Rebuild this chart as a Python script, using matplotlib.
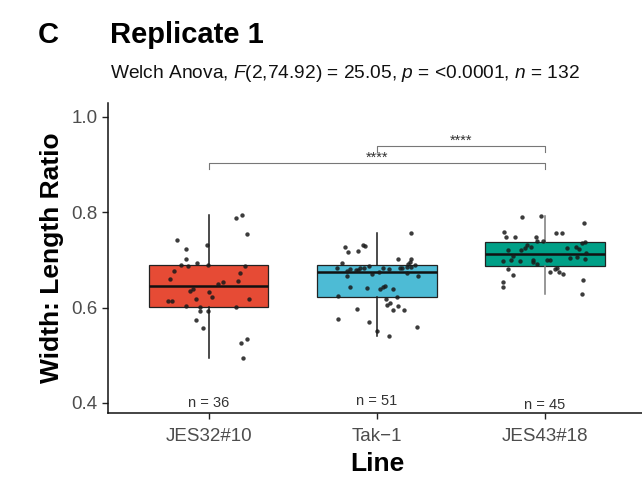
import matplotlib
matplotlib.use("Agg")
import matplotlib.pyplot as plt
import numpy as np

plt.rcParams['font.family'] = ['Liberation Sans', 'DejaVu Sans']
plt.rcParams['mathtext.fontset'] = 'custom'
plt.rcParams['mathtext.rm'] = 'Liberation Sans'
plt.rcParams['mathtext.it'] = 'Liberation Sans:italic'

# ---- data ----
lines = ["JES32#10", "Tak-1", "JES43#18"]
colors = ["#E64B35", "#4DBBD5", "#00A087"]
counts = [36, 51, 45]

# box statistics: lower whisker, Q1, median, Q3, upper whisker
whis_lo = [0.494, 0.541, 0.629]
q1 = [0.601, 0.622, 0.687]
median = [0.645, 0.675, 0.712]
q3 = [0.689, 0.689, 0.738]
whis_hi = [0.794, 0.756, 0.792]

# individual measurements (ratio) with their horizontal jitter
jes32_ratio = [0.787, 0.794, 0.754, 0.742, 0.731, 0.723, 0.702, 0.694, 0.689,
               0.687, 0.689, 0.688, 0.677, 0.673, 0.660, 0.656, 0.654, 0.650,
               0.639, 0.635, 0.633, 0.623, 0.619, 0.614, 0.614, 0.618, 0.604,
               0.602, 0.601, 0.593, 0.593, 0.574, 0.558, 0.526, 0.534, 0.494]
jes32_jit = [0.161, 0.195, 0.230, -0.192, -0.010, -0.137, -0.133, -0.070, -0.167,
             -0.123, -0.004, 0.218, -0.207, 0.185, -0.232, 0.171, 0.082, 0.052,
             -0.093, -0.113, 0.000, 0.016, -0.079, -0.242, -0.222, 0.240, -0.137,
             0.161, -0.054, -0.054, -0.004, -0.079, -0.034, 0.189, 0.226, 0.204]

tak1_ratio = [0.756, 0.728, 0.716, 0.719, 0.731, 0.729, 0.701, 0.701, 0.696,
              0.692, 0.690, 0.693, 0.684, 0.677, 0.680, 0.679, 0.684, 0.684,
              0.675, 0.684, 0.684, 0.686, 0.667, 0.667, 0.672, 0.643, 0.641,
              0.639, 0.644, 0.646, 0.639, 0.624, 0.619, 0.622, 0.605, 0.610,
              0.603, 0.596, 0.594, 0.597, 0.576, 0.570, 0.560, 0.551, 0.541,
              0.679, 0.682, 0.686, 0.671, 0.688, 0.680]
tak1_jit = [0.201, -0.188, -0.171, -0.115, -0.085, -0.068, 0.127, 0.205, 0.195,
            0.185, 0.226, -0.210, -0.240, -0.180, -0.161, -0.111, -0.101, -0.076,
            0.012, 0.038, 0.137, 0.177, 0.246, -0.180, 0.177, -0.158, -0.057,
            0.018, 0.036, 0.048, 0.097, -0.234, 0.054, 0.119, 0.061, 0.077,
            0.127, 0.097, 0.164, -0.119, -0.229, -0.046, 0.241, 0.002, 0.074,
            -0.125, 0.150, 0.200, -0.030, -0.045, 0.070]

jes43_ratio = [0.791, 0.792, 0.777, 0.756, 0.757, 0.759, 0.747, 0.747, 0.747,
               0.740, 0.738, 0.735, 0.731, 0.728, 0.724, 0.740, 0.724, 0.728,
               0.722, 0.721, 0.721, 0.708, 0.707, 0.702, 0.698, 0.700, 0.698,
               0.700, 0.695, 0.691, 0.700, 0.700, 0.680, 0.668, 0.675, 0.680,
               0.682, 0.675, 0.670, 0.654, 0.644, 0.658, 0.629, 0.715, 0.705]
jes43_jit = [-0.139, -0.026, 0.232, 0.065, 0.099, -0.242, -0.232, -0.179, -0.054,
             -0.046, 0.238, 0.218, -0.105, -0.085, -0.119, -0.010, 0.129, 0.185,
             0.204, -0.218, -0.143, -0.189, 0.189, 0.238, -0.252, -0.202, -0.149,
             -0.073, -0.070, -0.046, 0.010, 0.030, -0.218, -0.189, 0.030, 0.060,
             0.070, 0.085, 0.105, -0.248, -0.248, 0.228, 0.222, 0.245, 0.150]

ratios = [jes32_ratio, tak1_ratio, jes43_ratio]
jitters = [jes32_jit, tak1_jit, jes43_jit]

# pairwise comparisons: (group a, group b, bracket height, label)
comparisons = [(2, 3, 0.939, "****"), (1, 3, 0.903, "****")]
n_label_y = [0.400, 0.404, 0.396]

# ---- figure ----
fig = plt.figure(figsize=(6.42, 4.8), dpi=100)
ax = fig.add_axes([108 / 642, 67 / 480, (645.8 - 108) / 642, 310 / 480])

positions = np.arange(1, len(lines) + 1)
stats = []
for i in range(len(lines)):
    stats.append(dict(med=median[i], q1=q1[i], q3=q3[i],
                      whislo=whis_lo[i], whishi=whis_hi[i], fliers=[]))

whisker_colors = ["#1a1a1a", "#1a1a1a", "#7a7a7a"]
bp = ax.bxp(stats, positions=positions, widths=0.71, patch_artist=True,
            showcaps=False, showfliers=False,
            boxprops=dict(linewidth=0.9, edgecolor="#222222"),
            medianprops=dict(color="#111111", linewidth=1.8),
            whiskerprops=dict(linewidth=1.1), zorder=2)
for patch, c in zip(bp['boxes'], colors):
    patch.set_facecolor(c)
for i, wc in enumerate(whisker_colors):
    bp['whiskers'][2 * i].set_color(wc)
    bp['whiskers'][2 * i + 1].set_color(wc)

for i, (vals, jit) in enumerate(zip(ratios, jitters)):
    ax.scatter(positions[i] + np.array(jit), vals, s=10, color="#1a1a1a",
               alpha=0.85, linewidths=0, zorder=3)

# significance brackets
for a, b, h, lab in comparisons:
    ax.plot([a, a, b, b], [h - 0.013, h, h, h - 0.013], color="#777777",
            linewidth=0.8, zorder=1)
    ax.text((a + b) / 2, h - 0.004, lab, ha="center", va="bottom",
            fontsize=10.5, color="#333333")

# group sizes
for i, n in enumerate(counts):
    ax.text(positions[i], n_label_y[i], f"n = {n}", ha="center", va="center",
            fontsize=10.5, color="#333333")

ax.set_xlim(0.4, 3.6)
ax.set_ylim(0.379, 1.029)
ax.set_xticks(positions)
ax.set_xticklabels([l.replace("-", "\u2212") for l in lines])
ax.set_yticks([0.4, 0.6, 0.8, 1.0])
ax.set_yticklabels(["0.4", "0.6", "0.8", "1.0"])
ax.tick_params(axis="both", labelsize=13.5, colors="#222222",
               labelcolor="#4d4d4d", length=4, width=1)
ax.tick_params(axis="x", pad=7)
for side in ["top", "right"]:
    ax.spines[side].set_visible(False)
for side in ["left", "bottom"]:
    ax.spines[side].set_linewidth(1.1)
    ax.spines[side].set_color("#111111")

ax.set_xlabel("Line", fontsize=19, fontweight="bold", labelpad=5)
ax.set_ylabel("Width: Length Ratio", fontsize=19, fontweight="bold", labelpad=5)

fig.text(38 / 642, 1 - 35 / 480, "C", fontsize=21, fontweight="bold",
         va="center", ha="left")
fig.text(110 / 642, 1 - 35 / 480, "Replicate 1", fontsize=21, fontweight="bold",
         va="center", ha="left")
fig.text(110 / 642, 1 - 73 / 480,
         r"Welch Anova, $\it{F}$(2,74.92) = 25.05, $\it{p}$ = <0.0001, $\it{n}$ = 132",
         fontsize=13.8, va="center", ha="left", color="#111111")

fig.savefig("out.png", dpi=100)
